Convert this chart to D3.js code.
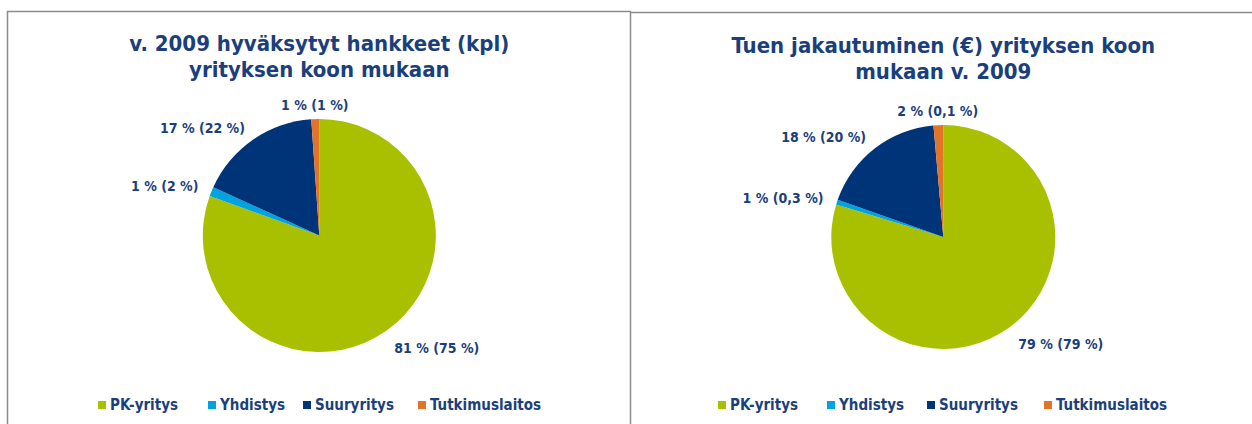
<!DOCTYPE html>
<html>
<head>
<meta charset="utf-8">
<script src="https://cdn.jsdelivr.net/npm/d3@7"></script>
<style>
  body { margin: 0; background: #fff; }
  text { font-family: "DejaVu Sans Condensed", "DejaVu Sans", sans-serif; font-weight: bold; fill: #1b3f7c; }
</style>
</head>
<body>
<div class="container"></div>
<script>
const CATEGORIES = ['PK-yritys', 'Yhdistys', 'Suuryritys', 'Tutkimuslaitos'];
const COLORS = ['#a9c000', '#00a3e0', '#003478', '#e4732a'];

const TITLE_1 = ['v. 2009 hyväksytyt hankkeet (kpl)', 'yrityksen koon mukaan'];
const VALUES_1 = [80.5, 1.3, 17.1, 1.1];
const LABELS_1 = ['81 % (75 %)', '1 % (2 %)', '17 % (22 %)', '1 % (1 %)'];

const TITLE_2 = ['Tuen jakautuminen (€) yrityksen koon', 'mukaan v. 2009'];
const VALUES_2 = [79.7, 0.7, 18.2, 1.4];
const LABELS_2 = ['79 % (79 %)', '1 % (0,3 %)', '18 % (20 %)', '2 % (0,1 %)'];

const WIDTH = 1252;
const HEIGHT = 424;

const svg = d3.select('.container').append('svg')
    .attr('width', WIDTH)
    .attr('height', HEIGHT);

// panel frames
svg.append('path')
    .attr('d', `M7.5,${HEIGHT + 2}V11.5H630.5V${HEIGHT + 2}`)
    .attr('fill', 'none').attr('stroke', '#8c8c8c').attr('stroke-width', 1.5);
svg.append('path')
    .attr('d', `M630.5,12.5H${WIDTH + 2}`)
    .attr('fill', 'none').attr('stroke', '#8c8c8c').attr('stroke-width', 1.5);

const color = d3.scaleOrdinal().domain(CATEGORIES).range(COLORS);

const drawPie = function (opts) {
    let g = svg.append('g');

    let title = g.append('text')
        .attr('text-anchor', 'middle')
        .style('font-size', '22px');
    title.selectAll('tspan').data(opts.title)
        .enter().append('tspan')
        .attr('x', opts.cx)
        .attr('y', (d, i) => opts.titleY + i * 26)
        .text(d => d);

    let pie = d3.pie().sort(null).value(d => d.value);
    let data = pie(CATEGORIES.map((c, i) => ({ cat: c, value: opts.values[i], label: opts.labels[i] })));

    let arc = d3.arc().innerRadius(0).outerRadius(opts.r);

    let pg = g.append('g')
        .attr('transform', `translate(${opts.cx}, ${opts.cy})`);

    pg.selectAll('path').data(data)
        .enter().append('path')
        .attr('d', arc)
        .attr('fill', d => color(d.data.cat));

    //--labels--
    let R = opts.r + 14;
    pg.selectAll('text').data(data)
        .enter().append('text')
        .attr('x', d => R * Math.sin((d.startAngle + d.endAngle) / 2))
        .attr('y', d => {
            let c = Math.cos((d.startAngle + d.endAngle) / 2);
            return -R * c + (c < 0 ? -c * 7 : 0);
        })
        .attr('dy', '0.35em')
        .attr('text-anchor', d => {
            let s = Math.sin((d.startAngle + d.endAngle) / 2);
            return s > 0.3 ? 'start' : (s < -0.3 ? 'end' : 'middle');
        })
        .style('font-size', '14px')
        .text(d => d.data.label);

    //--legend--
    let lg = g.append('g');
    let items = lg.selectAll('g').data(CATEGORIES)
        .enter().append('g')
        .attr('transform', (d, i) => `translate(${opts.legendX[i]}, ${opts.legendY})`);
    items.append('rect')
        .attr('x', 0).attr('y', -4)
        .attr('width', 8).attr('height', 8)
        .attr('fill', d => color(d));
    items.append('text')
        .attr('x', 12).attr('dy', '0.35em')
        .style('font-size', '15px')
        .text(d => d);
};

drawPie({
    title: TITLE_1, titleY: 51, cx: 319.3, cy: 235.5, r: 116.5,
    values: VALUES_1, labels: LABELS_1,
    legendX: [98, 208, 303, 418], legendY: 405
});

drawPie({
    title: TITLE_2, titleY: 53, cx: 943.3, cy: 237, r: 112,
    values: VALUES_2, labels: LABELS_2,
    legendX: [718, 827, 927, 1044], legendY: 405
});
</script>
</body>
</html>
